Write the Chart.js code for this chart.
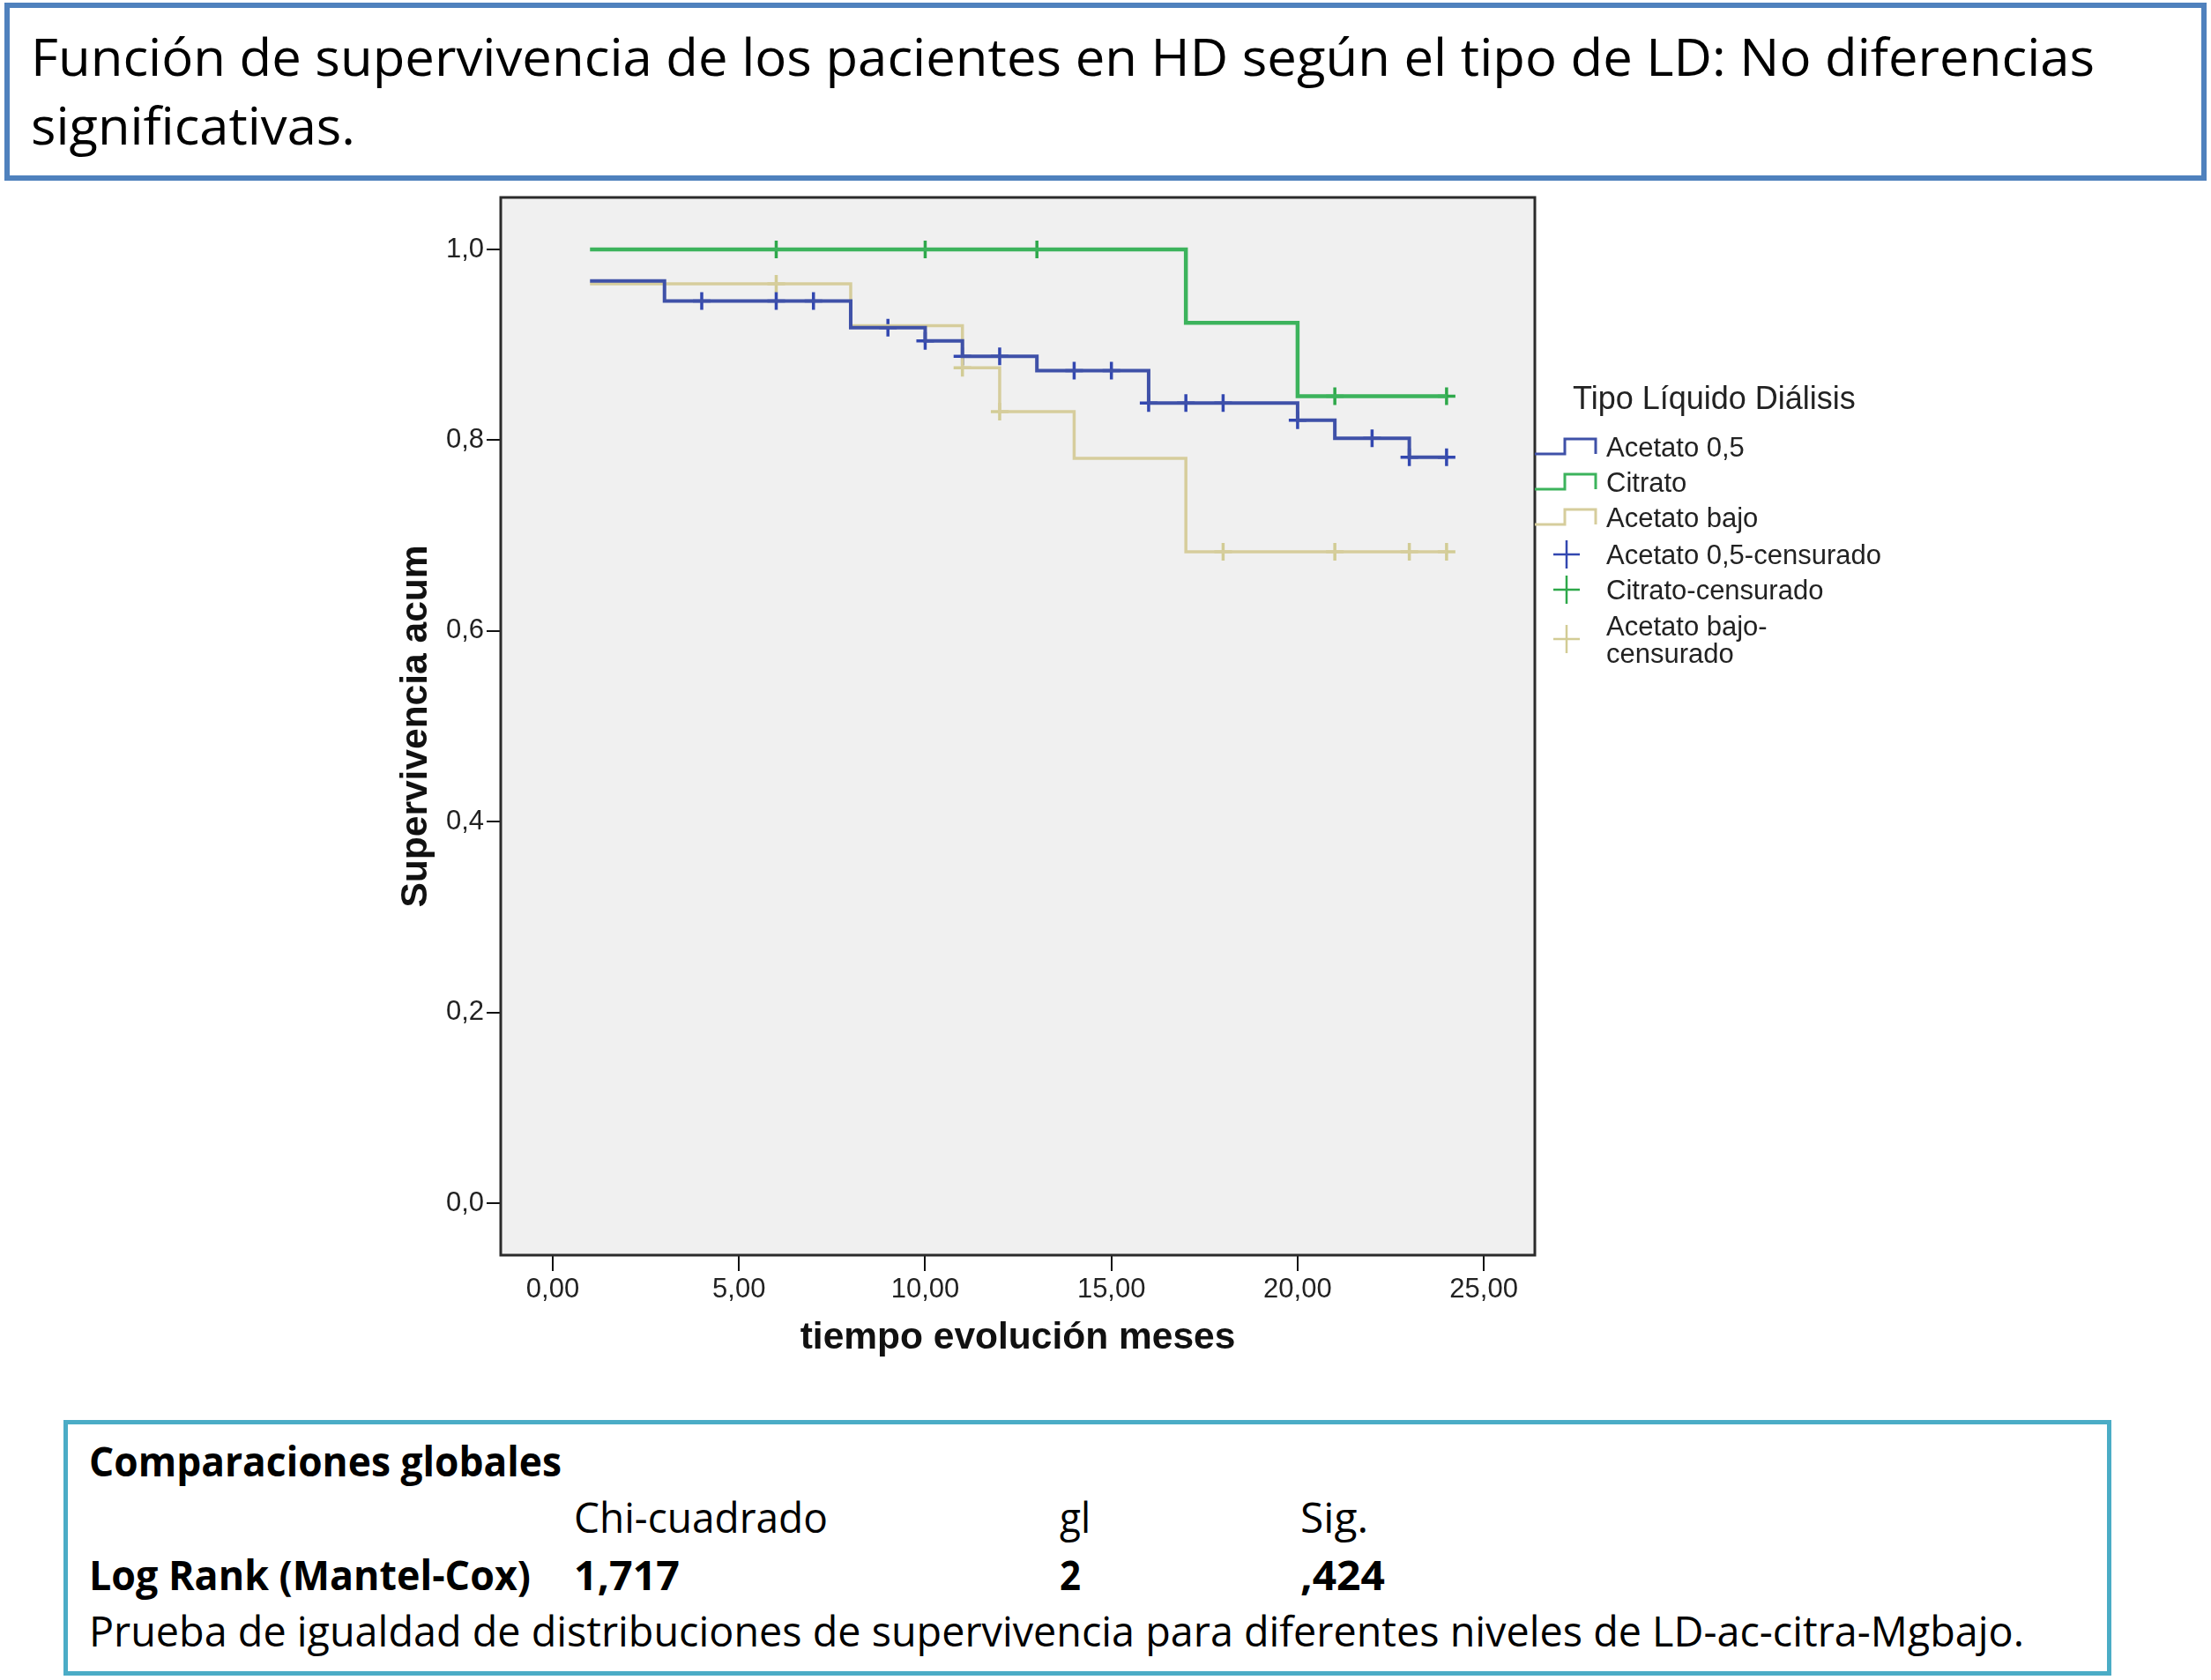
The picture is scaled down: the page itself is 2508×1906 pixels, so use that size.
<!DOCTYPE html>
<html lang="es">
<head>
<meta charset="utf-8">
<title>Función de supervivencia según tipo de LD</title>
<script src="https://cdn.jsdelivr.net/npm/chart.js@4.4.1/dist/chart.umd.min.js"></script>
<style>
  html, body { margin: 0; padding: 0; background: #fff; }
  body { width: 2508px; height: 1906px; position: relative; overflow: hidden; font-family: 'Open Sans', sans-serif; color: #000; }
  .box { position: absolute; box-sizing: border-box; }
  #titleBox { left: 5px; top: 3px; width: 2498px; height: 202px; border: 6px solid #4f81bd; }
  #statsBox { left: 72px; top: 1611px; width: 2323px; height: 290px; border: 5px solid #4bacc6; }
  .txt { position: absolute; white-space: nowrap; line-height: 1; transform-origin: 0 0; }
  .t57 { font-size: 58px; }
  .t46 { font-size: 47px; }
  .b { font-weight: 700; }
  #chartWrap { position: absolute; left: 420px; top: 200px; width: 1780px; height: 1380px; }
</style>
</head>
<body>
<div class="box" id="titleBox"></div>
<div class="txt t57" style="left:35px; top:35px" data-w="2341">Función de supervivencia de los pacientes en HD según el tipo de LD: No diferencias</div>
<div class="txt t57" style="left:35px; top:113px" data-w="368">significativas.</div>

<div id="chartWrap"><canvas id="kmChart" width="1780" height="1380"></canvas></div>

<div class="box" id="statsBox"></div>
<div class="txt t46 b" style="left:101px; top:1634px" data-w="536">Comparaciones globales</div>
<div class="txt t46" style="left:651px; top:1698px" data-w="288">Chi-cuadrado</div>
<div class="txt t46" style="left:1202px; top:1698px" data-w="35">gl</div>
<div class="txt t46" style="left:1475px; top:1698px" data-w="77">Sig.</div>
<div class="txt t46 b" style="left:101px; top:1763px" data-w="501">Log Rank (Mantel-Cox)</div>
<div class="txt t46 b" style="left:651px; top:1763px" data-w="120">1,717</div>
<div class="txt t46 b" style="left:1202px; top:1763px" data-w="24">2</div>
<div class="txt t46 b" style="left:1475px; top:1763px" data-w="96">,424</div>
<div class="txt t46" style="left:101px; top:1827px" data-w="2195">Prueba de igualdad de distribuciones de supervivencia para diferentes niveles de LD-ac-citra-Mgbajo.</div>

<script>
// ticks
const xTicks = [0, 5, 10, 15, 20, 25];
const yTicks = [0, 0.2, 0.4, 0.6, 0.8, 1.0];

// Acetato 0,5
const acetato05Time = [1, 3, 8, 10, 11, 13, 16, 20, 21, 23, 24];
const acetato05Surv = [0.967, 0.946, 0.918, 0.904, 0.888, 0.873, 0.839, 0.821, 0.802, 0.782, 0.782];
const acetato05CensTime = [4, 6, 7, 9, 10, 11, 12, 14, 15, 16, 17, 18, 20, 22, 23, 24];
const acetato05CensSurv = [0.946, 0.946, 0.946, 0.918, 0.904, 0.888, 0.888, 0.873, 0.873, 0.839, 0.839, 0.839, 0.821, 0.802, 0.782, 0.782];

// Citrato
const citratoTime = [1, 17, 20, 24];
const citratoSurv = [1.0, 0.923, 0.846, 0.846];
const citratoCensTime = [6, 10, 13, 21, 24];
const citratoCensSurv = [1.0, 1.0, 1.0, 0.846, 0.846];

// Acetato bajo
const acetatoBajoTime = [1, 8, 11, 12, 14, 17, 24];
const acetatoBajoSurv = [0.964, 0.920, 0.876, 0.830, 0.781, 0.683, 0.683];
const acetatoBajoCensTime = [6, 11, 12, 18, 21, 23, 24];
const acetatoBajoCensSurv = [0.964, 0.876, 0.830, 0.683, 0.683, 0.683, 0.683];

const legendTitle = 'Tipo Líquido Diálisis';
const legendLabels = [
  ['Acetato 0,5'], ['Citrato'], ['Acetato bajo'],
  ['Acetato 0,5-censurado'], ['Citrato-censurado'], ['Acetato bajo-', 'censurado'],
];

// fit html text widths to the reference
document.querySelectorAll('[data-w]').forEach((el) => {
  const w = el.getBoundingClientRect().width;
  el.style.transform = `scaleX(${(+el.dataset.w / w).toFixed(4)})`;
});

const toPts = (xs, ys) => xs.map((x, i) => ({ x, y: ys[i] }));

const curve = (label, xs, ys, color, width) => ({
  label,
  data: toPts(xs, ys),
  showLine: true,
  stepped: true,
  borderColor: color,
  borderWidth: width,
  pointRadius: 0,
  kind: 'curve',
});

const censored = (label, xs, ys, color) => ({
  label,
  data: toPts(xs, ys),
  showLine: false,
  pointStyle: 'cross',
  pointRadius: 10,
  pointBorderWidth: 3.5,
  borderColor: color,
  backgroundColor: color,
  kind: 'cens',
});

const plotFrame = {
  id: 'plotFrame',
  beforeDatasetsDraw(chart) {
    const { ctx, chartArea: a } = chart;
    ctx.save();
    ctx.fillStyle = '#f0f0f0';
    ctx.fillRect(a.left, a.top, a.right - a.left, a.bottom - a.top);
    ctx.restore();
  },
  afterDatasetsDraw(chart) {
    const { ctx, chartArea: a } = chart;
    ctx.save();
    ctx.strokeStyle = '#2b2b2b';
    ctx.lineWidth = 3;
    ctx.strokeRect(a.left, a.top, a.right - a.left, a.bottom - a.top);
    ctx.restore();
  },
};

const kmLegend = {
  id: 'kmLegend',
  afterDraw(chart) {
    const { ctx, chartArea: a } = chart;
    const x0 = a.right;
    const tx = a.right + 81;
    ctx.save();
    ctx.fillStyle = '#222';
    ctx.textBaseline = 'alphabetic';
    ctx.font = '36px "Liberation Sans", Arial, sans-serif';
    ctx.fillText(legendTitle, a.right + 43, 264);

    ctx.font = '31px "Liberation Sans", Arial, sans-serif';
    const baselines = [318, 358, 398, 440, 480, 521];
    chart.data.datasets.forEach((ds, i) => {
      const base = baselines[i];
      const lines = legendLabels[i];
      ctx.strokeStyle = ds.borderColor;
      if (ds.kind === 'curve') {
        ctx.lineWidth = 3;
        ctx.beginPath();
        ctx.moveTo(x0, base - 3);
        ctx.lineTo(x0 + 34, base - 3);
        ctx.lineTo(x0 + 34, base - 20);
        ctx.lineTo(x0 + 69, base - 20);
        ctx.lineTo(x0 + 69, base - 3);
        ctx.stroke();
      } else {
        const cy = base - 11 + (lines.length - 1) * 15;
        ctx.lineWidth = 2.5;
        ctx.beginPath();
        ctx.moveTo(x0 + 21, cy);
        ctx.lineTo(x0 + 51, cy);
        ctx.moveTo(x0 + 36, cy - 16);
        ctx.lineTo(x0 + 36, cy + 16);
        ctx.stroke();
      }
      lines.forEach((t, k) => ctx.fillText(t, tx, base + k * 31));
    });
    ctx.restore();
  },
};

new Chart(document.getElementById('kmChart').getContext('2d'), {
  type: 'scatter',
  data: {
    datasets: [
      curve('Acetato 0,5', acetato05Time, acetato05Surv, '#3f51a8', 4),
      curve('Citrato', citratoTime, citratoSurv, '#3cb35c', 4.5),
      curve('Acetato bajo', acetatoBajoTime, acetatoBajoSurv, '#d6cd9c', 3.5),
      censored('Acetato 0,5-censurado', acetato05CensTime, acetato05CensSurv, '#3247b0'),
      censored('Citrato-censurado', citratoCensTime, citratoCensSurv, '#2ea84a'),
      censored('Acetato bajo-censurado', acetatoBajoCensTime, acetatoBajoCensSurv, '#d2cc95'),
    ],
  },
  options: {
    responsive: false,
    devicePixelRatio: 1,
    animation: false,
    layout: { padding: { left: 0, right: 459, top: 24, bottom: 0 } },
    plugins: {
      legend: { display: false },
      tooltip: { enabled: false },
    },
    scales: {
      x: {
        type: 'linear',
        min: -1.397,
        max: 26.37,
        afterBuildTicks: (s) => { s.ticks = xTicks.map((v) => ({ value: v })); },
        afterFit: (s) => { s.height = 156; },
        border: { display: false },
        grid: { drawOnChartArea: false, drawTicks: true, tickLength: 18, color: '#111', lineWidth: 2 },
        ticks: {
          padding: 3,
          color: '#222',
          maxRotation: 0,
          font: { family: '"Liberation Sans", Arial, sans-serif', size: 31 },
          callback: (v) => v.toFixed(2).replace('.', ','),
        },
        title: {
          display: true,
          text: 'tiempo evolución meses',
          color: '#111',
          padding: { bottom: 36 },
          font: { family: '"Liberation Sans", Arial, sans-serif', size: 42.5, weight: 'bold' },
        },
      },
      y: {
        type: 'linear',
        min: -0.0545,
        max: 1.0545,
        afterBuildTicks: (s) => { s.ticks = yTicks.map((v) => ({ value: v })); },
        afterFit: (s) => { s.width = 148; },
        border: { display: false },
        grid: { drawOnChartArea: false, drawTicks: true, tickLength: 16, color: '#111', lineWidth: 2 },
        ticks: {
          padding: 3,
          color: '#222',
          font: { family: '"Liberation Sans", Arial, sans-serif', size: 31 },
          callback: (v) => v.toFixed(1).replace('.', ','),
        },
        title: {
          display: true,
          text: 'Supervivencia acum',
          color: '#111',
          padding: { top: 27 },
          font: { family: '"Liberation Sans", Arial, sans-serif', size: 42.5, weight: 'bold' },
        },
      },
    },
  },
  plugins: [plotFrame, kmLegend],
});
</script>
</body>
</html>
